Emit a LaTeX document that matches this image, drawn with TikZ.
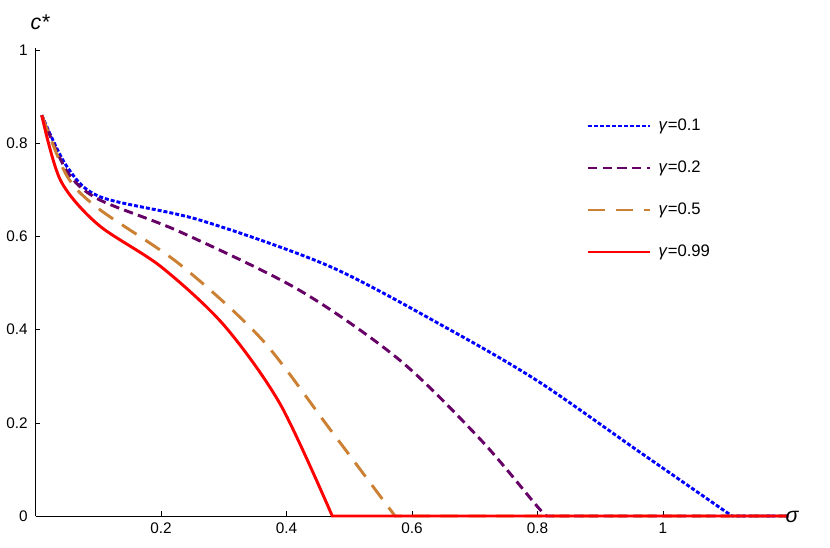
\documentclass[tikz,border=0pt]{standalone}
\usepackage{fontspec}
\setmainfont{Liberation Sans}
\begin{document}
\begin{tikzpicture}[x=0.75pt,y=-0.75pt,
  tl/.style={font=\fontsize{11.5}{13}\selectfont},
  cb/.style={blue,line width=2.2pt,dash pattern=on 3pt off 1.5pt},
  cp/.style={violet!80!black,line width=2.2pt,dash pattern=on 7pt off 4pt},
  cbr/.style={brown!80!orange,line width=2.2pt,dash pattern=on 13pt off 8pt},
  cr/.style={red,line width=2.2pt}]
\useasboundingbox (0,0) rectangle (830,547);
\begin{scope}[shift={(35.5,516)},x=470.6pt,y=349.5pt]
  \draw[black] (0,0) coordinate (o) -- (1.2,0) coordinate (xe);
  \draw[black] (0,0) -- (0,1.005) coordinate (ye);
  \foreach \t in {0.2,0.4,0.6,0.8,1}{
    \draw (\t,0) -- (\t,0.01);
    \node[tl,below] at (\t,-0.005) {\t};}
  \foreach \t in {0,0.2,0.4,0.6,0.8,1}{
    \draw (0,\t) -- (0.007,\t);
    \node[tl,left] at (-0.005,\t) {\t};}
  \draw[cb] plot[smooth,tension=0.5] coordinates {(0.01,0.86)(0.05,0.75)(0.103,0.685)(0.262,0.635)(0.47,0.535)(0.66,0.40)(0.80,0.29)(0.96,0.14)(1.11,0)} -- (1.2,0);
  \draw[cp] plot[smooth,tension=0.5] coordinates {(0.01,0.86)(0.05,0.74)(0.10,0.68)(0.23,0.61)(0.42,0.485)(0.58,0.335)(0.71,0.163)(0.80,0.02)(0.815,0)} -- (1.2,0);
  \draw[cbr] plot[smooth,tension=0.5] coordinates {(0.01,0.86)(0.05,0.73)(0.10,0.66)(0.23,0.54)(0.36,0.38)(0.47,0.185)(0.573,0)} -- (1.2,0);
  \draw[cr] plot[smooth,tension=0.5] coordinates {(0.01,0.86)(0.04,0.72)(0.10,0.625)(0.20,0.535)(0.30,0.41)(0.39,0.24)(0.473,0)} -- (1.2,0);
\end{scope}
\node[font=\fontsize{16}{18}\selectfont\itshape,anchor=west] (xl) at (781,517) {σ};
\node[font=\fontsize{16}{18}\selectfont\itshape] (yl) at (40,22) {c*};
\foreach \s/\y/\l in {cb/126/0.1,cp/168/0.2,cbr/210/0.5,cr/252/0.99}{
  \draw[\s] (588,\y) coordinate (a\y) -- (650,\y) coordinate (b\y);
  \node[anchor=west,font=\fontsize{12.5}{14}\selectfont] (t\y) at (654,\y) {\textit{γ}=\l};}
\end{tikzpicture}
\end{document}
